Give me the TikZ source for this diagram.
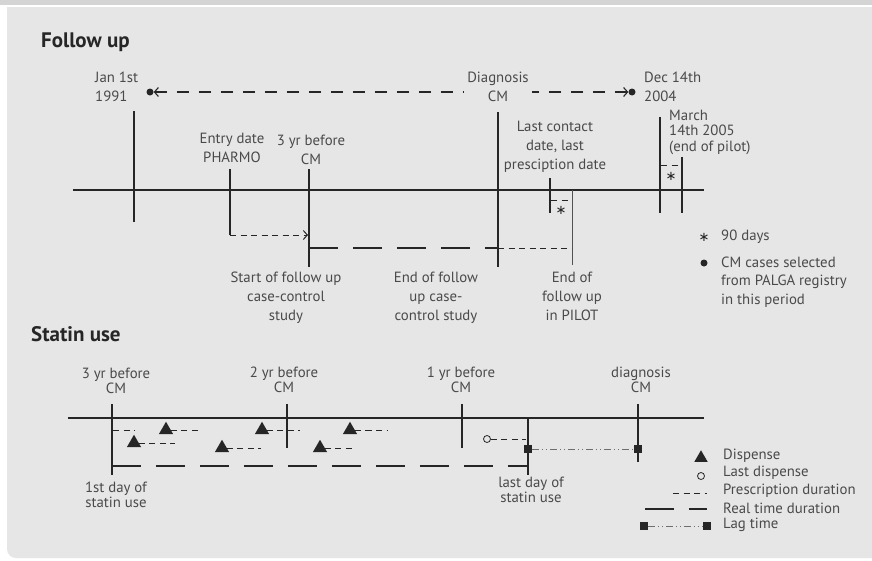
\documentclass[tikz,border=0pt]{standalone}
\usepackage{fontspec}
\setmainfont{PT Sans}
\newfontfamily\symfam{DejaVu Sans}
\usetikzlibrary{arrows.meta,shapes.geometric}
\definecolor{panel}{HTML}{E6E6E6}
\definecolor{band}{HTML}{D4D4D4}
\definecolor{txt}{HTML}{4A4A4A}
\definecolor{ink}{HTML}{262626}
\definecolor{lagc}{HTML}{6E6E6E}
\begin{document}
\begin{tikzpicture}[x=1pt,y=-1pt,
  lab/.style={text=txt,font=\fontsize{14.8}{19}\selectfont,align=center,inner sep=0pt},
  slab/.style={text=txt,font=\fontsize{14.8}{15}\selectfont,align=center,inner sep=0pt},
  ttl/.style={text=ink,font=\fontsize{21}{22}\selectfont\bfseries,anchor=base west,inner sep=0pt},
  axisline/.style={draw=ink,line width=1.3pt},
  tickline/.style={draw=ink,line width=1.3pt},
  thickline/.style={draw=ink,line width=2.7pt},
  thinline/.style={draw=ink!80,line width=0.8pt},
  pdash/.style={draw=ink,line width=1pt,dash pattern=on 6pt off 4.5pt},
  rtdash/.style={draw=ink,line width=1.8pt,dash pattern=on 29pt off 15pt},
  fudash/.style={draw=ink,line width=1.1pt,dash pattern=on 12pt off 10pt},
  lagline/.style={draw=lagc,line width=1pt,dash pattern=on 7pt off 3pt on 1pt off 3pt on 1pt off 3pt},
  bdot/.style={circle,fill=ink,inner sep=0pt,minimum size=7pt},
  odot/.style={circle,draw=ink,fill=panel,line width=0.8pt,inner sep=0pt,minimum size=7pt},
  tri/.style={regular polygon,regular polygon sides=3,fill=ink,inner sep=0pt,minimum size=16.5pt},
  sqr/.style={rectangle,fill=ink,inner sep=0pt,minimum size=8.5pt},
  astk/.style={text=ink,inner sep=0pt,font=\symfam\fontsize{13}{13}\selectfont}
]
\useasboundingbox (0,0) rectangle (872,560);
% background
\fill[white] (0,0) rectangle (872,560);
\fill[band] (0,0) rectangle (872,4.5);
\fill[panel,rounded corners=9pt] (7,7) rectangle (890,558);
\fill[panel] (7,7) rectangle (890,40);

% ================= Follow up =================
\node[ttl] (futitle) at (41,47) {Follow up};

\coordinate (fuL) at (73,190);
\coordinate (fuR) at (704,190);
\draw[axisline] (fuL) -- (fuR);

% top range
\node[bdot] (jandot) at (150,92) {};
\node[bdot] (decdot) at (632,92) {};
\node[lab,anchor=west,align=left] (janlab) at (95,87) {Jan 1st\\1991};
\node[lab,inner xsep=3pt] (diaglab) at (498,87) {Diagnosis\\CM};
\node[lab,anchor=west,align=left] (declab) at (644,87) {Dec 14th\\2004};
\draw[fudash,{Straight Barb[length=4pt,width=9pt]}-] (jandot.east) -- (diaglab.west |- jandot);
\draw[fudash,{Straight Barb[length=4pt,width=9pt]}-] (decdot.west) -- (diaglab.east |- decdot);

% Jan 1st tick
\coordinate (janT) at (134,111);
\coordinate (janB) at (134,222);
\draw[tickline] (janT) -- (janB);

% Entry date PHARMO
\node[lab] (entlab) at (232,148) {Entry date\\PHARMO};
\coordinate (entT) at (230,169);
\coordinate (entB) at (230,235);
\draw[tickline] (entT) -- (entB);

% 3 yr before CM
\node[lab] (thrlab) at (311,150) {3 yr before\\CM};
\coordinate (thrT) at (309,169);
\coordinate (thrA) at (309,190);
\coordinate (thrB) at (309,267);
\draw[tickline] (thrT) -- (thrA);
\draw[thickline] (thrA) -- (thrB);
\coordinate (entE) at (308,235);
\draw[pdash,-{Straight Barb[length=4pt,width=9pt]}] (entB) -- (entE);

% Diagnosis tick
\coordinate (diaT) at (498,112);
\coordinate (diaA) at (498,190);
\coordinate (diaB) at (498,267);
\draw[tickline] (diaT) -- (diaA);
\draw[thickline] (diaA) -- (diaB);

% real time (case-control)
\coordinate (rtS) at (309,248);
\coordinate (rtE) at (498,248);
\coordinate (pilE) at (572,248);
\draw[rtdash] (rtS) -- (rtE);
\draw[pdash] (rtE) -- (pilE);

% end of follow up in PILOT
\coordinate (pilT) at (572,190);
\coordinate (pilB) at (572,265);
\draw[thinline] (pilT) -- (pilB);

% last contact
\node[lab] (lcl) at (555,147) {Last contact\\date, last\\presciption date};
\coordinate (lcT) at (550,178);
\coordinate (lcB) at (550,213);
\draw[tickline] (lcT) -- (lcB);
\coordinate (lcd1) at (551,200);
\coordinate (lcd2) at (568,200);
\draw[pdash] (lcd1) -- (lcd2);
\node[astk] (lcast) at (561,210) {∗};

% Dec 14th / March ticks
\coordinate (decT) at (660,117);
\coordinate (decB) at (660,213);
\draw[tickline] (decT) -- (decB);
\coordinate (marT) at (682,157);
\coordinate (marB) at (682,213);
\draw[tickline] (marT) -- (marB);
\coordinate (md1) at (661,165);
\coordinate (md2) at (678,165);
\draw[pdash] (md1) -- (md2);
\node[astk] (marast) at (671,176) {∗};
\node[lab,anchor=west,align=left,font=\fontsize{14.8}{15.5}\selectfont] (marlab) at (669,132) {March\\14th 2005\\(end of pilot)};

% lower labels
\node[lab] (stlab) at (286,298) {Start of follow up\\case-control\\study};
\node[lab] (eflab) at (436,298) {End of follow\\up case-\\control study};
\node[lab] (eplab) at (572,296) {End of\\follow up\\in PILOT};

% legend follow up
\node[astk] (legast) at (704,237) {∗};
\node[lab,anchor=west] (legastt) at (721,237) {90 days};
\node[bdot] (legdot) at (704,263) {};
\node[lab,anchor=west,align=left,font=\fontsize{14.8}{18.5}\selectfont] (legdott) at (721,282) {CM cases selected\\from PALGA registry\\in this period};

% ================= Statin use =================
\node[ttl] (sttitle) at (31,341) {Statin use};

\coordinate (stL) at (68,418);
\coordinate (stR) at (704,418);
\draw[axisline] (stL) -- (stR);

\node[slab] (s3lab) at (116,381) {3 yr before\\CM};
\node[slab] (s2lab) at (284,380) {2 yr before\\CM};
\node[slab] (s1lab) at (461,380) {1 yr before\\CM};
\node[slab] (sdlab) at (641,380) {diagnosis\\CM};
\node[slab] (sfirst) at (116,495) {1st day of\\statin use};
\node[slab] (slast) at (531,490) {last day of\\statin use};

\coordinate (s3T) at (112,404);
\coordinate (s3B) at (112,475);
\draw[thickline] (s3T) -- (s3B);
\coordinate (s2T) at (287,404);
\coordinate (s2B) at (287,448);
\draw[tickline] (s2T) -- (s2B);
\coordinate (s1T) at (462,404);
\coordinate (s1B) at (462,448);
\draw[tickline] (s1T) -- (s1B);
\coordinate (sdT) at (638,404);
\coordinate (sdB) at (638,462);
\draw[draw=ink,line width=1.5pt] (sdT) -- (sdB);
\coordinate (slT) at (528,418);
\coordinate (slB) at (528,475);
\draw[thickline] (slT) -- (slB);

% real time duration
\coordinate (srS) at (112,466);
\coordinate (srE) at (528,466);
\draw[rtdash] (srS) -- (srE);

% dispenses
\coordinate (d0s) at (113,430);
\coordinate (d0e) at (135,430);
\draw[pdash] (d0s) -- (d0e);
\node[tri] (t1) at (134,443) {};
\node[tri] (t2) at (166,430) {};
\node[tri] (t3) at (222,448) {};
\node[tri] (t4) at (262,430) {};
\node[tri] (t5) at (320,448) {};
\node[tri] (t6) at (350,430) {};
\coordinate (e1) at (175,443);
\coordinate (e2) at (200,430);
\coordinate (e3) at (261,448);
\coordinate (e4) at (300,430);
\coordinate (e5) at (353,448);
\coordinate (e6) at (388,430);
\draw[pdash] (t1.east) -- (e1);
\draw[pdash] (t2.east) -- (e2);
\draw[pdash] (t3.east) -- (e3);
\draw[pdash] (t4.east) -- (e4);
\draw[pdash] (t5.east) -- (e5);
\draw[pdash] (t6.east) -- (e6);

% last dispense
\node[odot] (lastd) at (487,439) {};
\coordinate (lde) at (526,439);
\draw[pdash] (lastd.east) -- (lde);

% lag time
\node[sqr] (lagA) at (528,449) {};
\node[sqr] (lagB) at (638,449) {};
\draw[lagline] (lagA) -- (lagB);

% legend statin
\node[tri,minimum size=15.5pt] (lgtri) at (701,458) {};
\node[lab,anchor=west] (lgtrit) at (723,456) {Dispense};
\node[odot] (lgo) at (701,476) {};
\node[lab,anchor=west] (lgot) at (723,473) {Last dispense};
\coordinate (lgp1) at (673,493);
\coordinate (lgp2) at (707,493);
\draw[pdash] (lgp1) -- (lgp2);
\node[lab,anchor=west] (lgpt) at (723,491) {Prescription duration};
\coordinate (lgr1) at (645,509);
\coordinate (lgr2) at (707,509);
\draw[rtdash] (lgr1) -- (lgr2);
\node[lab,anchor=west] (lgrt) at (723,508) {Real time duration};
\node[sqr] (lgsA) at (644,526) {};
\node[sqr] (lgsB) at (707,526) {};
\draw[lagline] (lgsA) -- (lgsB);
\node[lab,anchor=west] (lglt) at (723,525) {Lag time};
\end{tikzpicture}
\end{document}
